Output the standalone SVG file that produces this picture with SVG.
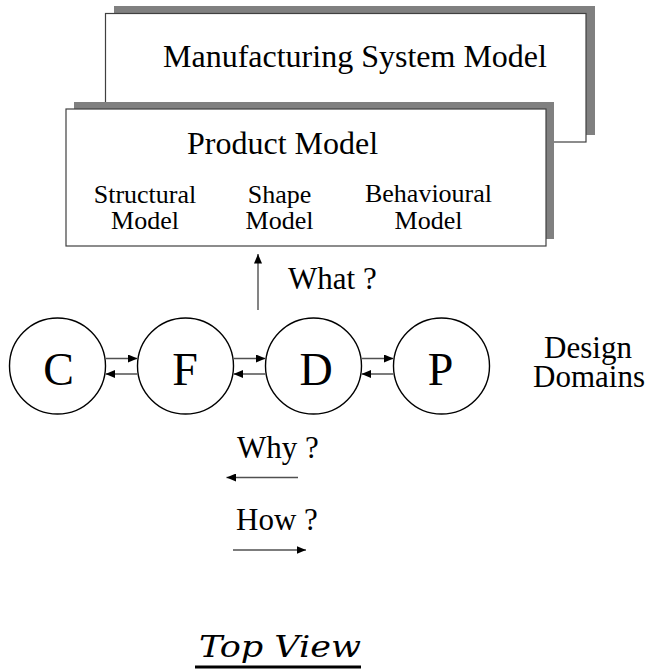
<svg xmlns="http://www.w3.org/2000/svg" width="647" height="670" viewBox="0 0 647 670">
  <style>
    .shadow { fill: #808080; stroke: none; }
    .box { fill: #ffffff; stroke: #404040; stroke-width: 1.2; }
    .node { fill: #ffffff; stroke: #000000; stroke-width: 1.4; }
    .t { font-family: "Liberation Serif", "Times New Roman", serif; fill: #000000; }
    .big { font-size: 32px; }
    .sub { font-size: 26px; text-anchor: middle; }
    .letter { font-size: 46px; text-anchor: middle; }
    .lbl { font-size: 31px; }
    .conn { stroke: #505050; stroke-width: 1.4; fill: none; marker-end: url(#arrow); }
    .title { font-family: "DejaVu Serif", "Liberation Serif", serif; font-style: italic; font-size: 29px; fill: #000000; }
  </style>
  <defs>
    <marker id="arrow" markerUnits="userSpaceOnUse" markerWidth="10" markerHeight="8" refX="9.5" refY="4" orient="auto">
      <path d="M0,0 L9.5,4 L0,8 Z" fill="#000000"/>
    </marker>
  </defs>
  <rect width="647" height="670" fill="#ffffff"/>

  <g id="manufacturing-system-model">
    <rect class="shadow" x="114" y="6" width="481" height="129"/>
    <rect class="box" x="105.5" y="13.5" width="480.5" height="128.5"/>
    <text class="t big" x="163" y="67">Manufacturing System Model</text>
  </g>

  <g id="product-model">
    <rect class="shadow" x="74" y="102" width="480" height="137"/>
    <rect class="box" x="66" y="109" width="480" height="137"/>
    <text class="t big" x="187" y="154">Product Model</text>
    <text class="t sub" x="145" y="203">Structural</text>
    <text class="t sub" x="145" y="228.5">Model</text>
    <text class="t sub" x="279.5" y="203">Shape</text>
    <text class="t sub" x="279.5" y="228.5">Model</text>
    <text class="t sub" x="428.5" y="202">Behavioural</text>
    <text class="t sub" x="428.5" y="228.5">Model</text>
  </g>

  <g id="node-C">
    <circle class="node" cx="57.5" cy="366" r="48"/>
    <text class="t letter" x="58.5" y="385">C</text>
  </g>
  <g id="node-F">
    <circle class="node" cx="185.5" cy="366" r="48"/>
    <text class="t letter" x="185" y="385">F</text>
  </g>
  <g id="node-D">
    <circle class="node" cx="313.5" cy="366" r="48"/>
    <text class="t letter" x="316" y="385">D</text>
  </g>
  <g id="node-P">
    <circle class="node" cx="441.5" cy="366" r="48"/>
    <text class="t letter" x="440.5" y="385">P</text>
  </g>

  <g id="design-domains-label">
    <text class="t lbl" x="588" y="358" text-anchor="middle">Design</text>
    <text class="t lbl" x="589" y="387" text-anchor="middle">Domains</text>
  </g>

  <g id="connectors">
    <line class="conn" x1="105.5" y1="358.5" x2="137.5" y2="358.5"/>
    <line class="conn" x1="137.5" y1="374" x2="105.5" y2="374"/>
    <line class="conn" x1="233.5" y1="358.5" x2="265.5" y2="358.5"/>
    <line class="conn" x1="265.5" y1="374" x2="233.5" y2="374"/>
    <line class="conn" x1="361.5" y1="358.5" x2="393.5" y2="358.5"/>
    <line class="conn" x1="393.5" y1="374" x2="361.5" y2="374"/>
    <line class="conn" x1="258" y1="310" x2="258" y2="254"/>
    <line class="conn" x1="298" y1="477.5" x2="226.5" y2="477.5"/>
    <line class="conn" x1="233" y1="550" x2="306" y2="550"/>
  </g>

  <g id="legend">
    <text class="t lbl" x="288" y="289">What ?</text>
    <text class="t lbl" x="237" y="457.5">Why ?</text>
    <text class="t lbl" x="236" y="530">How ?</text>
  </g>

  <g id="title">
    <text class="title" x="199" y="656.5" textLength="162" lengthAdjust="spacingAndGlyphs">Top View</text>
    <rect x="195" y="665.5" width="166" height="3" fill="#000000"/>
  </g>
</svg>
